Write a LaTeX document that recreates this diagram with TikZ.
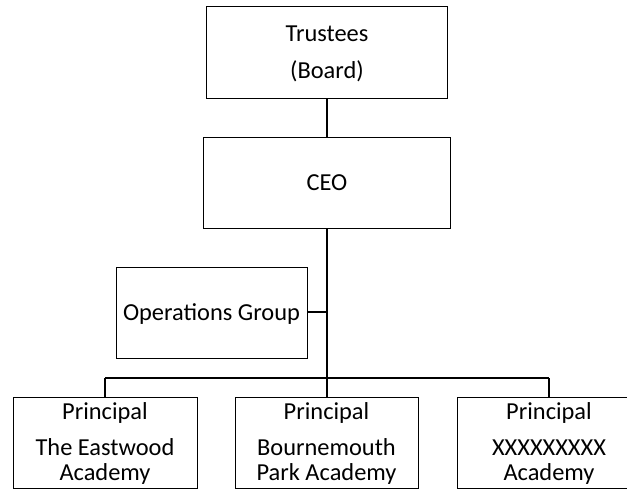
\documentclass[tikz,border=0pt]{standalone}
\usepackage{fontspec}
\setmainfont{Carlito}
\begin{document}
\begin{tikzpicture}[x=0.5pt,y=-0.5pt,
  box/.style={draw=black,line width=0.5pt},
  txt/.style={anchor=base,inner sep=0pt,font=\fontsize{12.2pt}{14pt}\selectfont},
  thin/.style={line width=0.65pt},
  thick/.style={line width=1.2pt}]
\useasboundingbox (0,0) rectangle (627,489);
\clip (0,0) rectangle (627,489);
% boxes
\draw[box] (206,6) rectangle (447,98);
\coordinate (tS) at (327,98);
\draw[box] (203,137) rectangle (450,228);
\coordinate (cN) at (327,137);
\coordinate (cS) at (327,228);
\draw[box] (116,267) rectangle (307,358);
\coordinate (oE) at (307,312);
\draw[box] (13,397) rectangle (197,488);
\draw[box] (235,397) rectangle (418,488);
\draw[box] (457,397) rectangle (641,488);
\coordinate (p1N) at (105,397);
\coordinate (p2N) at (327,397);
\coordinate (p3N) at (549,397);
\coordinate (spine) at (327,312);
\coordinate (hub) at (327,378);
\coordinate (barL) at (105,378);
\coordinate (barR) at (549,378);
% texts
\node[txt] (t1) at (327,41.7) {Trustees};
\node[txt] (t2) at (327,78) {(Board)};
\node[txt] (ceo) at (327,190) {CEO};
\node[txt] (ops) at (211.5,320.7) {Operations Group};
\node[txt] (a1) at (105,419) {Principal};
\node[txt] (a2) at (105,455) {The Eastwood};
\node[txt] (a3) at (105,480.7) {Academy};
\node[txt] (b1) at (326.5,419) {Principal};
\node[txt] (b2) at (326.5,455) {Bournemouth};
\node[txt] (b3) at (326.5,480.7) {Park Academy};
\node[txt] (c1) at (549,419) {Principal};
\node[txt] (c2) at (549,455) {XXXXXXXXX};
\node[txt] (c3) at (549,480.7) {Academy};
% connectors
\draw[thin] (tS) -- (cN);
\draw[thick,line width=1.3pt] (cS) -- (hub);
\draw[thick,line width=1.1pt] (oE) -- (spine);
\draw[thick,line width=1.0pt] (barL) -- (barR);
\draw[thin] (barL) -- (p1N);
\draw[thin] (hub) -- (p2N);
\draw[thin] (barR) -- (p3N);
\end{tikzpicture}
\end{document}
